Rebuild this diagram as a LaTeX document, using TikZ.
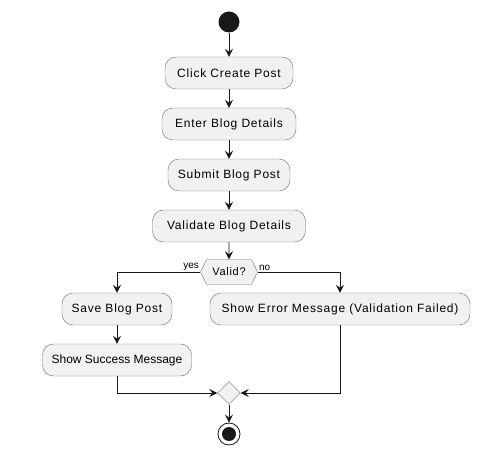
\documentclass[tikz,border=0pt]{standalone}
\usepackage{fontspec}
\setmainfont{Liberation Sans}
\newfontfamily\spacedfont[LetterSpace=6.5]{Liberation Sans}
\usetikzlibrary{arrows.meta, positioning, shapes.geometric, shapes.symbols}
\definecolor{boxfill}{HTML}{F1F1F1}
\definecolor{boxline}{HTML}{6E6E6E}
\definecolor{lineclr}{HTML}{181818}

\begin{document}
\begin{tikzpicture}[
  x=1pt, y=-1pt,
  box/.style={draw=boxline, fill=boxfill, rounded corners=11pt, minimum height=32pt, inner xsep=8pt, font=\fontsize{12}{14}\selectfont},
  spaced/.style={font=\fontsize{12}{14}\spacedfont},
  choice/.style={signal, signal to=east and west, signal pointer angle=128, draw=boxline, fill=boxfill, minimum width=57pt, minimum height=25pt, inner sep=1pt, font=\fontsize{11}{13}\spacedfont},
  merge/.style={diamond, draw=boxline, fill=boxfill, minimum size=23pt, inner sep=0pt},
  startdot/.style={circle, fill=lineclr, minimum size=21pt, inner sep=0pt},
  enddot/.style={circle, draw=lineclr, fill=white, minimum size=22pt, inner sep=0pt, line width=0.8pt,
    path picture={\fill[lineclr] (path picture bounding box.center) circle (7pt);}},
  tag/.style={inner sep=1pt, font=\fontsize{10}{12}\selectfont},
  arrow/.style={-{Stealth[length=8pt, width=8pt, inset=3pt]}, draw=lineclr, line width=0.8pt}
]
\useasboundingbox (0,0) rectangle (501,449);

\node[startdot] (start) at (229,22) {};
\node[box, spaced, minimum width=128pt] (click) at (229,73) {Click Create Post};
\node[box, spaced, minimum width=134pt] (enter) at (229,124) {Enter Blog Details};
\node[box, spaced, minimum width=122pt] (submit) at (229,175) {Submit Blog Post};
\node[box, spaced, minimum width=153pt] (validate) at (229,226) {Validate Blog Details};
\node[choice] (valid) at (229,272) {Valid?};
\node[box, spaced, minimum width=110pt] (save) at (117,309) {Save Blog Post};
\node[box, spaced, minimum width=260pt] (error) at (340,309) {Show Error Message (Validation Failed)};
\node[box, minimum width=149pt] (success) at (117,360) {Show Success Message};
\node[merge] (join) at (229,393) {};
\node[enddot] (stop) at (229,434) {};

\draw[arrow] (start) -- (click);
\draw[arrow] (click) -- (enter);
\draw[arrow] (enter) -- (submit);
\draw[arrow] (submit) -- (validate);
\draw[arrow] (validate) -- (valid);
\draw[arrow] (valid.west) -| node[tag, pos=0, above left] {yes} (save.north);
\draw[arrow] (valid.east) -| node[tag, pos=0, above right] {no} (error.north);
\draw[arrow] (save) -- (success);
\draw[arrow] (success.south) |- (join.west);
\draw[arrow] (error.south) |- (join.east);
\draw[arrow] (join) -- (stop);

\end{tikzpicture}
\end{document}
